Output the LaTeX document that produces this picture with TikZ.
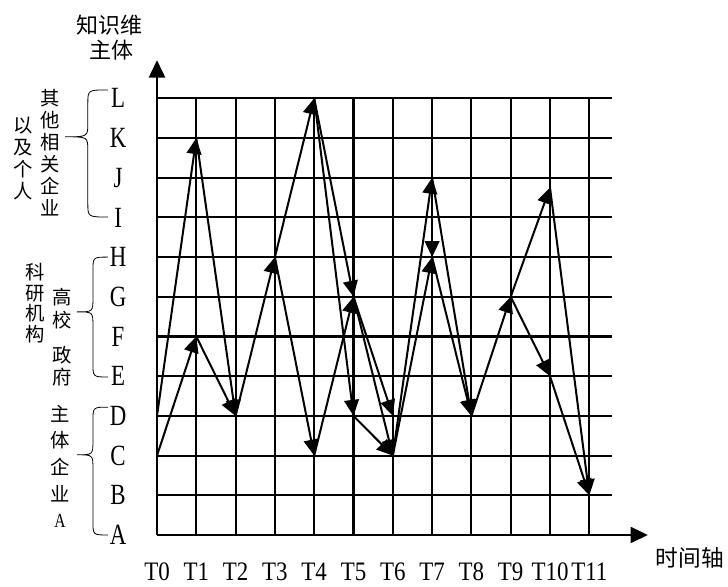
\documentclass[tikz,border=0pt]{standalone}
\usepackage{fontspec}
\setmainfont{Liberation Serif}
\newfontfamily\cjk{Noto Sans CJK SC}
\newfontfamily\narrowserif{Liberation Serif}[FakeStretch=0.78]
\newfontfamily\timeserif{Liberation Serif}[FakeStretch=0.86]
\usetikzlibrary{arrows.meta}
\tikzset{>=Latex}

% geschweifte Klammer links: Koerper-x, Spitzen-x, oben, Spitze, unten
\newcommand{\sidebrace}[5]{%
  \draw[brace line] (-1.25,#3) .. controls (#1,#3) .. (#1,#3-0.35)
    -- (#1,#4+0.35) .. controls (#1,#4) .. (#2,#4)
    .. controls (#1,#4) .. (#1,#4-0.35)
    -- (#1,#5+0.35) .. controls (#1,#5) .. (-1.25,#5);
}

\begin{document}
\begin{tikzpicture}[x=29.475pt, y=29.775pt,
    gridline/.style={line width=1.6pt},
    axis/.style={line width=1.8pt, -{Triangle[length=13pt,width=12pt]}},
    conn/.style={line width=1.5pt, -{Triangle[length=12pt,width=11pt]}},
    brace line/.style={line width=0.6pt},
    letter/.style={font=\narrowserif\fontsize{22}{24}\selectfont, inner sep=0pt},
    tlabel/.style={font=\timeserif\fontsize{20}{22}\selectfont, inner sep=0pt},
    zh/.style={font=\cjk\fontsize{14.5}{16.5}\selectfont, align=center, inner sep=0pt}]

    \useasboundingbox (-3.995,-1.285) rectangle (14.529,13.476);

    % Gitter
    \foreach \r in {1,...,11}
        \draw[gridline] (0,\r) -- (11.58,\r);
    \foreach \i in {1,...,11}
        \draw[gridline] (\i,0) -- (\i,11);

    % Achsen
    \coordinate (O) at (0,0);
    \coordinate (ytip) at (0,11.96);
    \coordinate (xtip) at (12.49,0);
    \draw[axis] (O) -- (ytip);
    \draw[axis] (O) -- (xtip);

    % Gitterpunkte T0-A ... T11-L
    \foreach \r/\name in {0/A,1/B,2/C,3/D,4/E,5/F,6/G,7/H,8/I,9/J,10/K,11/L} {
        \foreach \i in {0,...,11}
            \coordinate (T\i-\name) at (\i,\r);
        \node[letter] (row-\name) at (-0.99,\r) {\name};
    }
    \coordinate (T10-top) at (10,8.75);

    % Zeitachse
    \foreach \i in {0,...,11}
        \node[tlabel] (t\i) at (\i,-0.93) {T\i};
    \node[zh, font=\cjk\fontsize{17}{18}\selectfont] (taxis) at (13.56,-0.58) {时间轴};

    % Achsentitel
    \node[zh, font=\cjk\fontsize{16.5}{18}\selectfont] (ytitle1) at (-1.2,12.85) {知识维};
    \node[zh, font=\cjk\fontsize{16.5}{18}\selectfont] (ytitle2) at (-1.17,12.22) {主体};

    % Klammern und Gruppen
    \sidebrace{-1.76}{-2.34}{11.21}{10.03}{8.01}
    \sidebrace{-1.63}{-2.04}{7.0}{5.62}{3.98}
    \sidebrace{-1.63}{-2.04}{3.22}{2.02}{0}

    \node[zh] (others) at (-2.72,9.63) {其\\他\\相\\关\\企\\业};
    \node[zh] (persons) at (-3.41,9.48) {以\\及\\个\\人};
    \node[zh, font=\cjk\fontsize{14.5}{15.4}\selectfont] (research) at (-3.10,5.84) {科\\研\\机\\构};
    \node[zh, font=\cjk\fontsize{14.5}{17}\selectfont] (univ) at (-2.42,5.71) {高\\校};
    \node[zh] (gov) at (-2.42,4.26) {政\\府};
    \node[zh, font=\cjk\fontsize{14.5}{20}\selectfont] (firm) at (-2.47,1.73) {主\\体\\企\\业\\{\narrowserif\fontsize{15}{20}\selectfont A}};

    % Wissensfluss
    \draw[conn] (T0-D) -- (T1-K);
    \draw[conn] (T0-C) -- (T1-F);
    \draw[conn] (T1-K) -- (T2-D);
    \draw[conn] (T1-F) -- (T2-D);
    \draw[conn] (T2-D) -- (T3-H);
    \draw[conn] (T3-H) -- (T4-L);
    \draw[conn] (T3-H) -- (T4-C);
    \draw[conn] (T4-L) -- (T5-G);
    \draw[conn] (T4-L) -- (T5-D);
    \draw[conn] (T4-C) -- (T5-G);
    \draw[conn] (T5-G) -- (T6-D);
    \draw[conn] (T5-G) -- (T6-C);
    \draw[conn] (T5-D) -- (T6-C);
    \draw[conn] (T6-C) -- (T7-J);
    \draw[conn] (T6-C) -- (T7-H);
    \draw[conn] (T7-J) -- (T7-H);
    \draw[conn] (T7-J) -- (T8-D);
    \draw[conn] (T7-H) -- (T8-D);
    \draw[conn] (T8-D) -- (T9-G);
    \draw[conn] (T9-G) -- (T10-top);
    \draw[conn] (T9-G) -- (T10-E);
    \draw[conn] (T10-top) -- (T11-B);
    \draw[conn] (T10-E) -- (T11-B);

\end{tikzpicture}
\end{document}
